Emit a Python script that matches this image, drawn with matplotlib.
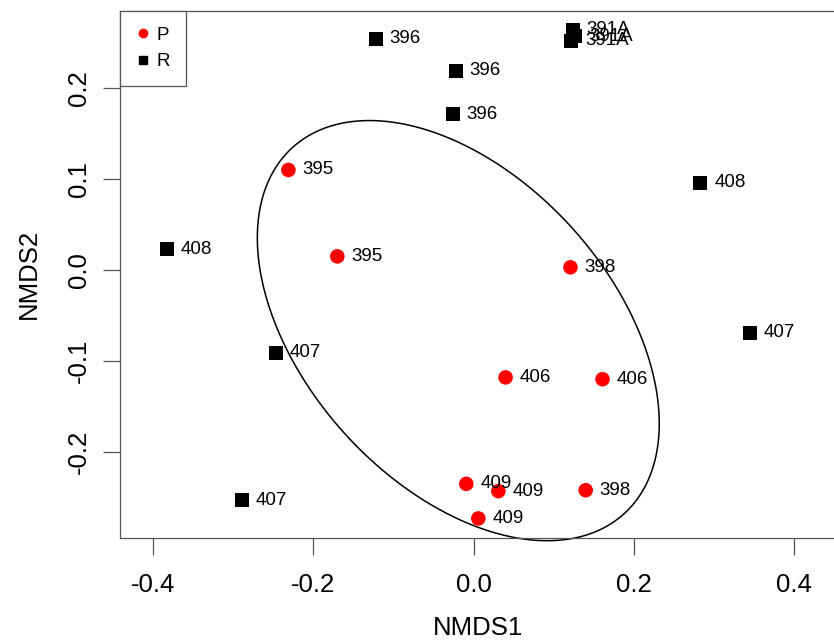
import numpy as np
import matplotlib
matplotlib.use('Agg')
import matplotlib.pyplot as plt
from matplotlib.lines import Line2D
from matplotlib.patches import Polygon

plt.rcParams['font.family'] = ['Liberation Sans', 'DejaVu Sans']

# NMDS scores, group P (red circles)
p_x = [-0.231, -0.170, 0.121, 0.040, 0.161, -0.009, 0.031, 0.140, 0.006]
p_y = [0.110, 0.015, 0.003, -0.118, -0.120, -0.235, -0.243, -0.242, -0.273]
p_lab = ['395', '395', '398', '406', '406', '409', '409', '398', '409']

# group R (black squares)
r_x = [-0.383, -0.122, -0.022, -0.026, 0.124, 0.127, 0.122, 0.283, 0.345, -0.247, -0.289]
r_y = [0.023, 0.254, 0.219, 0.171, 0.264, 0.257, 0.252, 0.096, -0.069, -0.091, -0.253]
r_lab = ['408', '396', '396', '396', '391A', '391A', '391A', '408', '407', '407', '407']

# ellipse (centre and shape matrix, data units)
ell_center = [-0.019, -0.0666]
ell_cov = [[0.0629, -0.0256], [-0.0256, 0.0533]]

xticks = [-0.4, -0.2, 0.0, 0.2, 0.4]
yticks = [-0.2, -0.1, 0.0, 0.1, 0.2]

fig = plt.figure(figsize=(8.34, 6.42), dpi=100)
ax = fig.add_axes([120 / 834, 104 / 642, 716 / 834, 527.3 / 642])

t = np.linspace(0, 2 * np.pi, 400, endpoint=False)
L = np.linalg.cholesky(np.array(ell_cov))
e = np.array(ell_center)[:, None] + L @ np.vstack([np.cos(t), np.sin(t)])
ax.add_patch(Polygon(e.T, closed=True, fill=False, edgecolor='black',
                     lw=1.1, zorder=2, clip_on=False))

ax.scatter(p_x, p_y, s=110, marker='o', color='#ff0000', edgecolors='none', zorder=3)
ax.scatter(r_x, r_y, s=100, marker='s', color='black', edgecolors='none', zorder=3)

for x, y, s in zip(p_x + r_x, p_y + r_y, p_lab + r_lab):
    ax.annotate(s, (x, y), xytext=(10, 0), textcoords='offset points',
                ha='left', va='center', fontsize=13.5, zorder=4)

ax.set_xlim(-0.4412, 0.4524)
ax.set_ylim(-0.2945, 0.2850)
ax.set_xticks(xticks)
ax.set_yticks(yticks)
ax.set_xticklabels([f'{v:.1f}' for v in xticks])
ax.set_yticklabels([f'{v:.1f}' for v in yticks], rotation=90, va='center')
ax.tick_params(axis='both', direction='out', length=12, width=0.9,
               color='#555555', labelsize=18.5)
ax.tick_params(axis='x', pad=13)
ax.tick_params(axis='y', pad=9)
for sp in ax.spines.values():
    sp.set_color('#555555')
    sp.set_linewidth(0.9)

ax.set_xlabel('NMDS1', fontsize=18.5, labelpad=14)
ax.set_ylabel('NMDS2', fontsize=18.5, labelpad=19)

handles = [Line2D([], [], marker='o', color='#ff0000', ls='none', markersize=6),
           Line2D([], [], marker='s', color='black', ls='none', markersize=6)]
leg = ax.legend(handles, ['P', 'R'], loc='upper left', bbox_to_anchor=(0, 1),
                borderaxespad=0, fancybox=False, framealpha=1, edgecolor='#555555',
                fontsize=13.5, handlelength=0.8, handletextpad=0.3,
                borderpad=0.85, labelspacing=0.5)
leg.get_frame().set_linewidth(0.9)

fig.savefig('out.png', dpi=100)
